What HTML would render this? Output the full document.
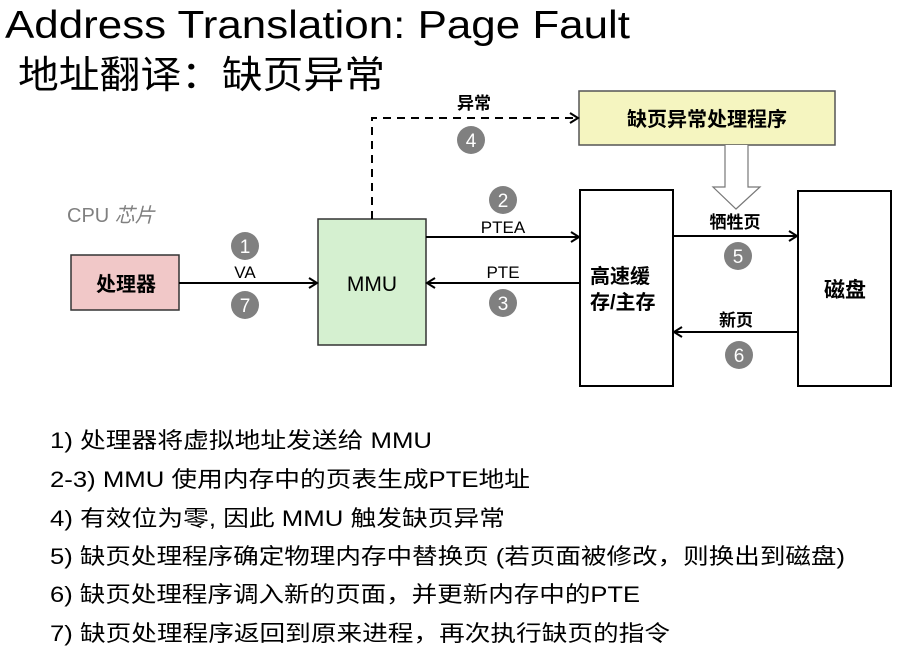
<!DOCTYPE html>
<html><head><meta charset="utf-8"><style>
html,body{margin:0;padding:0;background:#fff;}
svg{display:block;}
text{font-family:"Liberation Sans","Noto Sans CJK SC",sans-serif;}
</style></head><body>
<svg width="901" height="653" viewBox="0 0 901 653" xmlns="http://www.w3.org/2000/svg">
<defs>
<marker id="a" markerWidth="12" markerHeight="12" refX="10" refY="6" orient="auto" markerUnits="userSpaceOnUse">
<path d="M2,1 L10,6 L2,11" fill="none" stroke="#000" stroke-width="2"/>
</marker>
</defs>
<text x="5" y="38" font-size="39" textLength="625" lengthAdjust="spacingAndGlyphs">Address Translation: Page Fault</text>
<text x="18" y="88" font-size="38" textLength="367" lengthAdjust="spacingAndGlyphs" font-family="'Noto Sans CJK SC',sans-serif">地址翻译：缺页异常</text>

<text x="67" y="222" font-size="20" fill="#808080">CPU <tspan font-style="italic">芯片</tspan></text>

<rect x="71" y="255" width="108" height="55" fill="#f1c8c8" stroke="#333" stroke-width="1.5"/>
<text x="126" y="291" font-size="20" font-weight="bold" text-anchor="middle">处理器</text>
<rect x="318" y="219" width="108" height="126" fill="#d5f0d0" stroke="#333" stroke-width="1.5"/>
<text x="372" y="291" font-size="21" text-anchor="middle">MMU</text>
<rect x="579" y="91" width="256" height="54" fill="#f5f5c0" stroke="#555" stroke-width="1.5"/>
<text x="707" y="126" font-size="20" font-weight="bold" text-anchor="middle">缺页异常处理程序</text>
<rect x="580" y="190" width="93" height="196" fill="#fff" stroke="#000" stroke-width="2"/>
<text x="590" y="283" font-size="20" font-weight="bold">高速缓</text>
<text x="590" y="309" font-size="20" font-weight="bold">存/主存</text>
<rect x="798" y="191" width="93" height="195" fill="#fff" stroke="#000" stroke-width="2"/>
<text x="845" y="297" font-size="21" font-weight="bold" text-anchor="middle">磁盘</text>

<path d="M725,145 L725,187 L713,187 L736,209 L760,187 L748,187 L748,145" fill="#fff" stroke="#777" stroke-width="1.2"/>

<line x1="179" y1="283" x2="317" y2="283" stroke="#000" stroke-width="2" marker-end="url(#a)"/>
<line x1="426" y1="237" x2="579" y2="237" stroke="#000" stroke-width="2" marker-end="url(#a)"/>
<line x1="580" y1="283" x2="427" y2="283" stroke="#000" stroke-width="2" marker-end="url(#a)"/>
<line x1="673" y1="236" x2="797" y2="236" stroke="#000" stroke-width="2" marker-end="url(#a)"/>
<line x1="798" y1="332" x2="674" y2="332" stroke="#000" stroke-width="2" marker-end="url(#a)"/>
<path d="M372,219 L372,118 L578,118" fill="none" stroke="#000" stroke-width="2" stroke-dasharray="8,6" marker-end="url(#a)"/>

<text x="245" y="278" font-size="17" text-anchor="middle">VA</text>
<text x="503" y="233" font-size="17" text-anchor="middle">PTEA</text>
<text x="503" y="278" font-size="17" text-anchor="middle">PTE</text>
<text x="735" y="228" font-size="17" font-weight="bold" text-anchor="middle">牺牲页</text>
<text x="736" y="326" font-size="17" font-weight="bold" text-anchor="middle">新页</text>
<text x="474" y="109" font-size="17" font-weight="bold" text-anchor="middle">异常</text>

<g fill="#808080">
<circle cx="245" cy="246" r="14"/><circle cx="245" cy="305" r="14"/>
<circle cx="471" cy="140" r="14"/><circle cx="503" cy="200" r="14"/>
<circle cx="503" cy="303" r="14"/><circle cx="738" cy="256" r="14"/>
<circle cx="739" cy="355" r="14"/>
</g>
<g fill="#fff" font-size="19" text-anchor="middle">
<text x="245" y="253">1</text><text x="245" y="312">7</text>
<text x="471" y="147">4</text><text x="503" y="207">2</text>
<text x="503" y="310">3</text><text x="738" y="263">5</text>
<text x="739" y="362">6</text>
</g>

<g font-size="22" fill="#000">
<text x="50" y="448" textLength="382" lengthAdjust="spacingAndGlyphs">1) 处理器将虚拟地址发送给 MMU</text>
<text x="50" y="487" textLength="480" lengthAdjust="spacingAndGlyphs">2-3) MMU 使用内存中的页表生成PTE地址</text>
<text x="50" y="526" textLength="455" lengthAdjust="spacingAndGlyphs">4) 有效位为零, 因此 MMU 触发缺页异常</text>
<text x="50" y="564" textLength="795" lengthAdjust="spacingAndGlyphs">5) 缺页处理程序确定物理内存中替换页 (若页面被修改，则换出到磁盘)</text>
<text x="50" y="602" textLength="590" lengthAdjust="spacingAndGlyphs">6) 缺页处理程序调入新的页面，并更新内存中的PTE</text>
<text x="50" y="641" textLength="620" lengthAdjust="spacingAndGlyphs">7) 缺页处理程序返回到原来进程，再次执行缺页的指令</text>
</g>
</svg>
</body></html>
